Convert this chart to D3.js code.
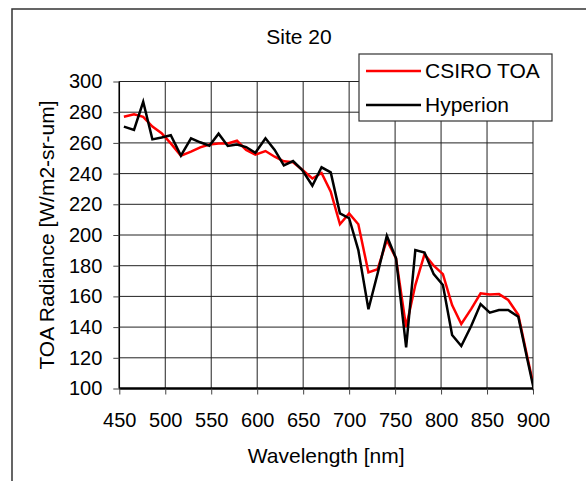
<!DOCTYPE html>
<html>
<head>
<meta charset="utf-8">
<title>Site 20</title>
<script src="https://d3js.org/d3.v7.min.js"></script>
<style>
  body { margin: 0; background: #fff; }
  svg { display: block; font-family: "Liberation Sans", Arial, sans-serif; }
</style>
</head>
<body>
<div id="chart"></div>
<script>
// wavelength of each band [nm]
var wavelength = [455, 466, 476, 486, 496, 506, 517, 528, 538, 548, 558, 568, 578, 588, 598,
  609, 619, 629, 639, 649, 660, 670, 680, 690, 700, 710, 721, 731, 741, 751, 762, 772, 782,
  792, 802, 812, 822, 833, 843, 853, 863, 873, 884, 894, 904]

// radiance
var csiro = [277, 278.6, 277, 270.6, 266.3, 259.7, 251.7, 254.3, 257.1, 259, 259.6, 259.6, 261.4, 255.4, 252.4,
  254.7, 251, 248, 247.4, 242.5, 236.8, 240.4, 228.2, 207, 214.1, 207, 175.6, 177.7, 196.7, 184.8, 140, 167.4, 187.5,
  180, 174.5, 154.4, 142, 152, 162, 161.3, 161.5, 157.7, 148, 120, 93]
var hyperion = [270.6, 268.4, 286.8, 262.3, 263.5, 265, 251.7, 263, 260.4, 258.2, 266, 258, 259, 257.3, 253.6,
  263, 255.4, 245.4, 248.2, 242.3, 232.1, 244.1, 240.8, 214.1, 210.9, 190.2, 151.6, 175, 199.5, 184.8, 126.8, 190.2, 188.5,
  174.5, 167.4, 134.9, 127.7, 141, 155, 149.4, 151.1, 151.1, 146.8, 118.6, 91]

var xTicks = [450, 500, 550, 600, 650, 700, 750, 800, 850, 900]
var yTicks = [100, 120, 140, 160, 180, 200, 220, 240, 260, 280, 300]

var series = [
  {name: "CSIRO TOA", values: csiro, color: "#ff0000"},
  {name: "Hyperion", values: hyperion, color: "#000000"}
]

var W = 586, H = 481
var svg = d3.select("#chart").append("svg").attr("width", W).attr("height", H)

// outer frame (only left and top edges fall inside the picture)
svg.append("rect")
  .attr("x", 12).attr("y", 9).attr("width", 700).attr("height", 600)
  .attr("fill", "none").attr("stroke", "#333").attr("stroke-width", 1.5)

var x = d3.scaleLinear().domain([450, 900]).range([119.3, 533])
var y = d3.scaleLinear().domain([100, 300]).range([388.5, 81.5])

// gridlines
svg.append("g")
  .selectAll("line.h").data(yTicks).enter().append("line")
  .attr("x1", x(450)).attr("x2", x(900))
  .attr("y1", d => y(d)).attr("y2", d => y(d))
  .attr("stroke", "#222").attr("stroke-width", 1)
svg.append("g")
  .selectAll("line.v").data(xTicks).enter().append("line")
  .attr("x1", d => x(d)).attr("x2", d => x(d))
  .attr("y1", y(300)).attr("y2", y(100))
  .attr("stroke", "#222").attr("stroke-width", 1)

// axes
var yAxis = svg.append("g")
  .attr("transform", "translate(" + x(450) + ",0)")
  .call(d3.axisLeft(y).tickValues(yTicks).tickSize(6).tickPadding(11))
var xAxis = svg.append("g")
  .attr("transform", "translate(0," + y(100) + ")")
  .call(d3.axisBottom(x).tickValues(xTicks).tickSize(6).tickPadding(18))

yAxis.select(".domain").attr("stroke", "#000").attr("stroke-width", 1.5).attr("d", "M0," + y(300) + "V" + y(100))
xAxis.select(".domain").attr("stroke", "#000").attr("stroke-width", 2.5).attr("d", "M" + x(450) + ",0H" + x(900))
svg.selectAll(".tick line").attr("stroke", "#444")
svg.selectAll(".tick text").attr("font-size", 20).attr("fill", "#000")
  .attr("font-family", "'Liberation Sans', Arial, sans-serif")

// lines
svg.append("clipPath").attr("id", "plotclip")
  .append("rect").attr("x", x(450)).attr("y", y(300) - 10)
  .attr("width", x(900) - x(450)).attr("height", y(100) - y(300) + 20)

var line = d3.line()
  .x((d, i) => x(wavelength[i]))
  .y(d => y(d))

var plot = svg.append("g").attr("clip-path", "url(#plotclip)")
series.forEach(function(s) {
  plot.append("path")
    .datum(s.values)
    .attr("d", line)
    .attr("fill", "none")
    .attr("stroke", s.color)
    .attr("stroke-width", 2.5)
    .attr("stroke-linejoin", "miter")
})
// black on top of red
plot.selectAll("path").filter((d, i) => i == 1).raise()

// title
svg.append("text")
  .attr("x", 299).attr("y", 44)
  .attr("text-anchor", "middle").attr("font-size", 21)
  .text("Site 20")

// axis titles
svg.append("text")
  .attr("x", (x(450) + x(900)) / 2).attr("y", 463)
  .attr("text-anchor", "middle").attr("font-size", 21)
  .text("Wavelength [nm]")
svg.append("text")
  .attr("transform", "translate(54," + (y(100) + y(300)) / 2 + ") rotate(-90)")
  .attr("text-anchor", "middle").attr("font-size", 21)
  .text("TOA Radiance [W/m2-sr-um]")

// legend
var legend = svg.append("g")
legend.append("rect")
  .attr("x", 359).attr("y", 54).attr("width", 193).attr("height", 67)
  .attr("fill", "#fff").attr("stroke", "#333").attr("stroke-width", 1.2)
var ly = d3.scalePoint().domain(series.map(d => d.name)).range([71, 105])
series.forEach(function(s) {
  legend.append("line")
    .attr("x1", 366).attr("x2", 421)
    .attr("y1", ly(s.name)).attr("y2", ly(s.name))
    .attr("stroke", s.color).attr("stroke-width", 2.5)
  legend.append("text")
    .attr("x", 425).attr("y", ly(s.name) + 7)
    .attr("font-size", 21)
    .text(s.name)
})
</script>
</body>
</html>
